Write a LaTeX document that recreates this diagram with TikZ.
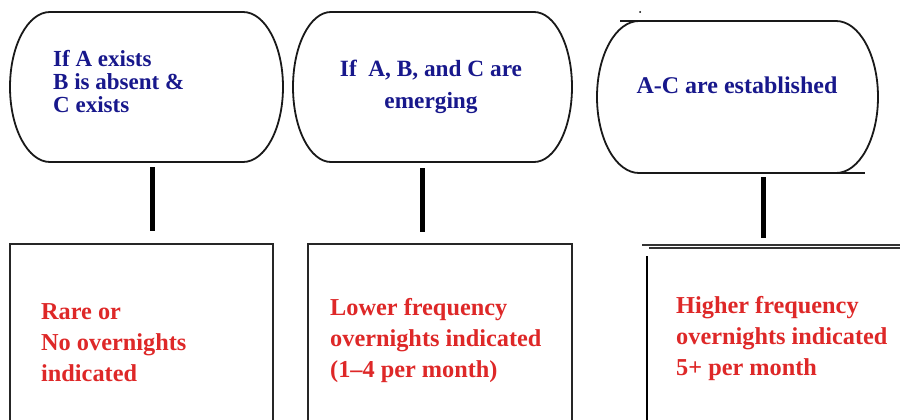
\documentclass[tikz,border=0pt]{standalone}
\usepackage{fontspec}
\setmainfont{Liberation Serif}
\usetikzlibrary{calc}
\definecolor{tblue}{RGB}{24,24,140}
\definecolor{tred}{RGB}{222,40,40}
\newcommand\mystadium[3]{%
  \draw[stadline] ([xshift=#2]#1.north west) -- ([xshift=-#2]#1.north east)
    arc[start angle=90,end angle=-90,x radius=#2,y radius=#3]
    -- ([xshift=#2]#1.south west)
    arc[start angle=270,end angle=90,x radius=#2,y radius=#3] -- cycle;}
\begin{document}
\begin{tikzpicture}[x=1pt,y=-1pt,
  holder/.style={rectangle,draw=none,inner sep=0pt,outer sep=0pt},
  stadline/.style={draw=black!90,line width=1.8pt},
  rectbox/.style={rectangle,draw=black!85,line width=1.9pt,inner sep=0pt,outer sep=0pt},
  conn/.style={line width=5pt,black},
  bluetext/.style={text=tblue,inner sep=0pt,font=\bfseries\fontsize{23}{23}\selectfont},
  redtext/.style={text=tred,inner sep=0pt,align=left,font=\bfseries\fontsize{24.3}{31}\selectfont}]
\useasboundingbox (0,0) rectangle (900,420);
\fill[white] (0,0) rectangle (900,420);
% top shapes
\node[holder,minimum width=273pt,minimum height=150pt] (s1) at (146.5,87) {};
\node[holder,minimum width=279pt,minimum height=150pt] (s2) at (432.5,87) {};
\node[holder,minimum width=281pt,minimum height=152pt] (s3) at (737.5,97) {};
\mystadium{s1}{40pt}{75pt}
\mystadium{s2}{38pt}{75pt}
\mystadium{s3}{42pt}{76pt}
\draw[stadline] ($(s3.north west)+(23,0)$) -- ($(s3.north west)+(46,0)$);
\draw[stadline] ($(s3.south east)+(-45,0)$) -- ($(s3.south east)+(-13,0)$);
\fill[black] (640,12) circle (1pt);
% texts in shapes (base anchor = baseline of last line)
\node[bluetext,anchor=base west,align=left] (t1) at (53,112) {If A exists\\B is absent \&\\C exists};
\node[bluetext,anchor=base,align=center,font=\bfseries\fontsize{23.3}{32}\selectfont] (t2) at (431,108) {If\ \ A, B, and C are\\emerging};
\node[bluetext,anchor=base,font=\bfseries\fontsize{24}{28}\selectfont] (t3) at (737,93) {A-C are established};
% bottom boxes
\node[rectbox,minimum width=263pt,minimum height=190pt] (r1) at (141.5,339) {};
\node[rectbox,minimum width=264pt,minimum height=190pt] (r2) at (440,339) {};
\node[holder,minimum width=263pt,minimum height=190pt] (r3) at (778.5,340) {};
\draw[black!80,line width=1.6pt] ($(r3.north west)+(-5,0)$) -- ($(r3.north east)+(0,0)$);
\draw[black!80,line width=1.6pt] ($(r3.north west)+(2,3)$) -- ($(r3.north east)+(0,3)$);
\draw[black,line width=1.9pt] ($(r3.north west)+(0,11)$) -- (r3.south west);
% texts in boxes
\node[redtext,anchor=base west] (u1) at (41,381) {Rare or\\No overnights\\indicated};
\node[redtext,anchor=base west] (u2) at (330,377) {Lower frequency\\overnights indicated\\(1--4 per month)};
\node[redtext,anchor=base west] (u3) at (676,375) {Higher frequency\\overnights indicated\\5+ per month};
% connectors
\draw[conn] ($(s1.south)+(5.5,5)$) -- ($(r1.north)+(10.5,-13)$);
\draw[conn] ($(s2.south)+(-10.5,6)$) -- ($(r2.north)+(-18,-12)$);
\draw[conn] ($(s3.south)+(25.5,4)$) -- ($(r3.north)+(-15.5,-7)$);
\end{tikzpicture}
\end{document}
